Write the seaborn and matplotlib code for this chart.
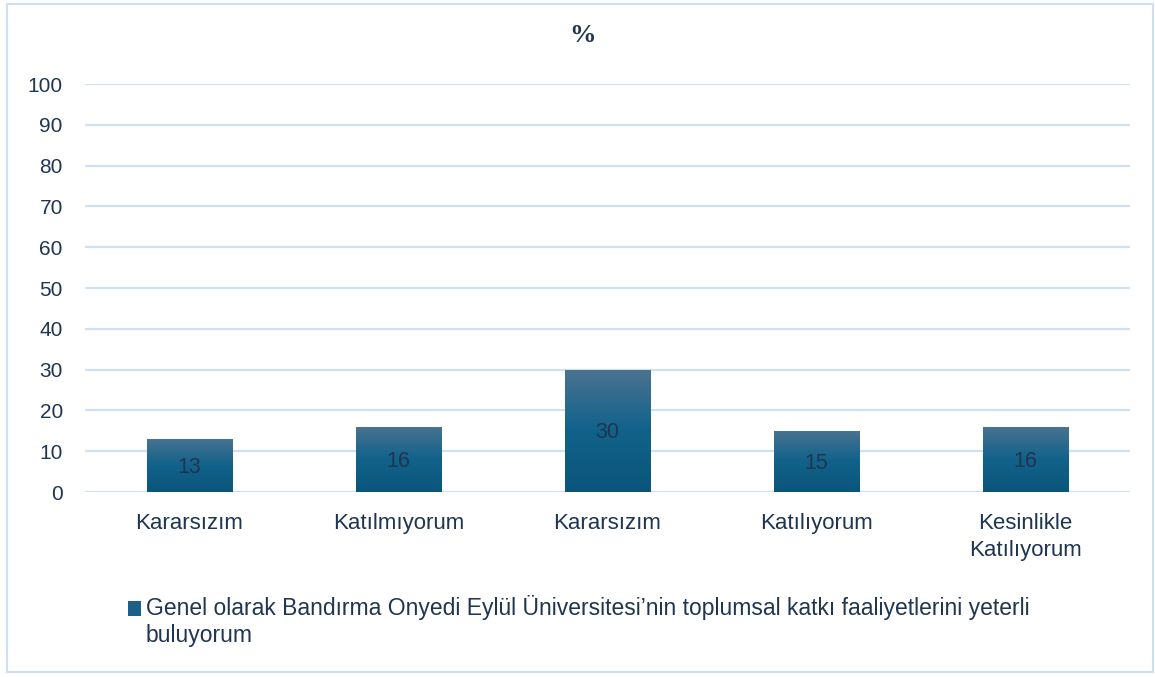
import numpy as np
import pandas as pd
import matplotlib
matplotlib.use("Agg")
import matplotlib.pyplot as plt
import seaborn as sns
from matplotlib.colors import LinearSegmentedColormap
from matplotlib.patches import Rectangle
from matplotlib.legend_handler import HandlerPatch

categories = ["Kararsızım", "Katılmıyorum", "Kararsızım", "Katılıyorum", "Kesinlikle\nKatılıyorum"]
values = [13, 16, 30, 15, 16]
series_name = "Genel olarak Bandırma Onyedi Eylül Üniversitesi’nin toplumsal katkı faaliyetlerini yeterli\nbuluyorum"
yticks = [0, 10, 20, 30, 40, 50, 60, 70, 80, 90, 100]

sns.set_theme(style="white")
plt.rcParams['font.family'] = ['Liberation Sans', 'DejaVu Sans']

text_color = "#1f3550"
grid_color = "#cfe0f3"
bar_color = "#14628a"

df = pd.DataFrame({"pos": list(range(len(categories))), "value": values})

fig = plt.figure(figsize=(11.55, 6.77), dpi=100)
ax = fig.add_axes([85/1155, 1-492/677, (1130-85)/1155, (492-84)/677])

sns.barplot(data=df, x="pos", y="value", ax=ax, color=bar_color, width=0.41,
            label=series_name, saturation=1)

# gradient fill clipped to bars
cmap = LinearSegmentedColormap.from_list("g", ["#0b557a", "#11628b", "#4a7391"])
grad = np.linspace(0, 1, 256).reshape(-1, 1)
for p in ax.patches:
    x0, y0 = p.get_x(), p.get_y()
    w, h = p.get_width(), p.get_height()
    im = ax.imshow(grad, extent=[x0, x0 + w, y0, y0 + h], origin="lower",
                   cmap=cmap, aspect="auto", zorder=p.get_zorder() + 0.1)
    im.set_clip_path(p)
    p.set_edgecolor("none")

for p, v in zip(ax.patches, values):
    ax.text(p.get_x() + p.get_width() / 2, v / 2 - 0.5, str(v), ha="center", va="center",
            fontsize=15.5, color=text_color, zorder=5)

ax.set_xlim(-0.5, len(categories) - 0.5)
ax.set_ylim(0, 100)
ax.set_yticks(yticks)
ax.set_yticklabels([str(t) for t in yticks], fontsize=15, color=text_color)
ax.set_xticks(range(len(categories)))
ax.set_xticklabels(categories, fontsize=16, color=text_color, linespacing=1.4)
ax.tick_params(axis="x", length=0, pad=15)
ax.tick_params(axis="y", length=0, pad=16)
ax.set_xlabel("")
ax.set_ylabel("")
ax.yaxis.grid(True, color=grid_color, linewidth=1.6)
ax.set_axisbelow(True)
for s in ax.spines.values():
    s.set_visible(False)
if ax.get_legend() is not None:
    ax.get_legend().remove()

fig.text(583/1155, 1-36/677, "%", ha="center", va="center", fontsize=19,
         fontweight="bold", family="Liberation Serif", color=text_color)


def top_square(legend, orig_handle, xdescent, ydescent, width, height, fontsize):
    return Rectangle((-xdescent, -ydescent + 9.5), width, height)


handle = Rectangle((0, 0), 1, 1, facecolor="#1a6088", edgecolor="none")
leg = fig.legend([handle], [series_name], loc="upper left",
                 bbox_to_anchor=(107/1155, 1-574/677), frameon=False,
                 handlelength=0.6, handleheight=0.6, handletextpad=0.2,
                 handler_map={Rectangle: HandlerPatch(patch_func=top_square)},
                 prop={"family": ["Liberation Sans"], "size": 16.5})
for t in leg.get_texts():
    t.set_color(text_color)
    t.set_linespacing(1.25)

fig.patches.append(Rectangle((7/1155, 5/677), 1146/1155, 668/677, transform=fig.transFigure,
                             fill=False, edgecolor="#cfe0f2", linewidth=1.5))

fig.savefig("out.png", dpi=100)
